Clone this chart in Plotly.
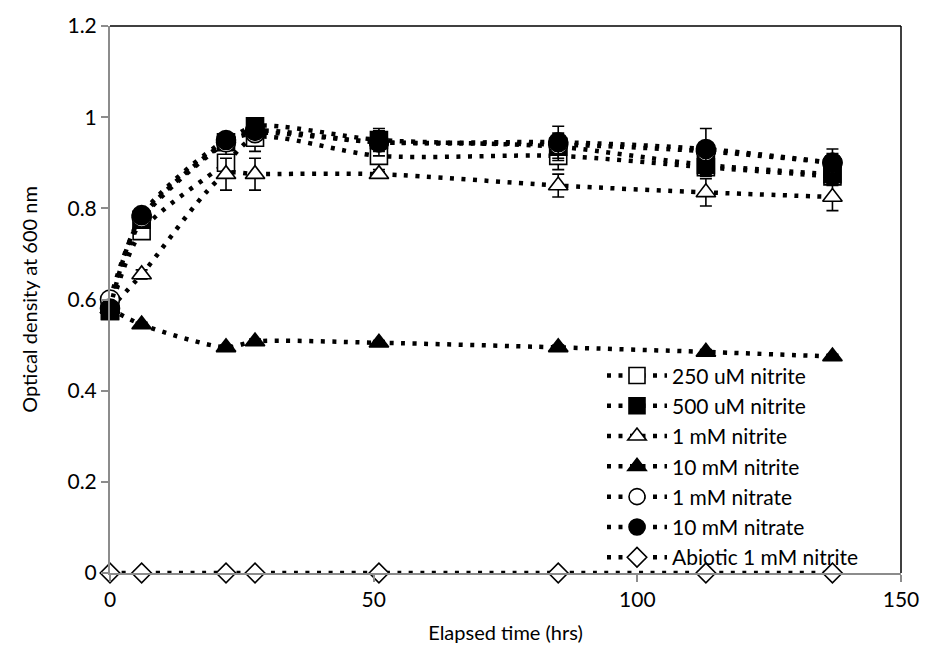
import plotly.graph_objects as go

time_hrs = [0, 6, 22, 27.5, 51, 85, 113, 137]

series_names = ["250 uM nitrite", "500 uM nitrite", "1 mM nitrite", "10 mM nitrite",
                "1 mM nitrate", "10 mM nitrate", "Abiotic 1 mM nitrite"]

nitrite_250uM = [0.575, 0.75, 0.90, 0.955, 0.915, 0.915, 0.89, 0.87]
nitrite_500uM = [0.575, 0.775, 0.945, 0.98, 0.95, 0.935, 0.895, 0.875]
nitrite_1mM = [0.58, 0.655, 0.875, 0.875, 0.875, 0.85, 0.835, 0.825]
nitrite_10mM = [0.58, 0.545, 0.495, 0.508, 0.505, 0.495, 0.485, 0.475]
nitrate_1mM = [0.60, 0.78, 0.945, 0.965, 0.945, 0.94, 0.925, 0.90]
nitrate_10mM = [0.58, 0.785, 0.95, 0.97, 0.945, 0.945, 0.93, 0.90]
abiotic_1mM = [0, 0, 0, 0, 0, 0, 0, 0]

err_250uM = [0.005, 0.01, 0.03, 0.03, 0.03, 0.03, 0.02, 0.02]
err_500uM = [0.005, 0.01, 0.01, 0.015, 0.02, 0.03, 0.02, 0.02]
err_1mM_nitrite = [0.005, 0.01, 0.035, 0.035, 0.005, 0.025, 0.03, 0.03]
err_10mM_nitrite = [0.005, 0.005, 0.005, 0.005, 0.005, 0.005, 0.005, 0.005]
err_1mM_nitrate = [0.005, 0.01, 0.01, 0.01, 0.02, 0.02, 0.02, 0.02]
err_10mM_nitrate = [0.005, 0.01, 0.01, 0.01, 0.03, 0.035, 0.045, 0.03]
err_abiotic = [0, 0, 0, 0, 0, 0, 0, 0]

values = [nitrite_250uM, nitrite_500uM, nitrite_1mM, nitrite_10mM,
          nitrate_1mM, nitrate_10mM, abiotic_1mM]
errors = [err_250uM, err_500uM, err_1mM_nitrite, err_10mM_nitrite,
          err_1mM_nitrate, err_10mM_nitrate, err_abiotic]
symbols = ["square", "square", "triangle-up", "triangle-up", "circle", "circle", "diamond"]
fills = ["white", "black", "white", "black", "white", "black", "white"]
sizes = [17, 17, 17, 17, 19, 19, 15]

fig = go.Figure()
for name, y, e, sym, fc, sz in zip(series_names, values, errors, symbols, fills, sizes):
    fig.add_trace(go.Scatter(
        x=time_hrs, y=y, name=name, mode="lines+markers",
        line=dict(color="black", width=4.5, dash="4px,7.5px", shape="spline", smoothing=0.8),
        marker=dict(symbol=sym, size=sz, color=fc, line=dict(color="black", width=1.6)),
        error_y=dict(type="data", array=e, color="black", thickness=1.6, width=6),
        cliponaxis=False,
    ))

font_family = "Lato, 'Open Sans', sans-serif"

fig.update_layout(
    width=931, height=660,
    margin=dict(l=110, r=26, t=21, b=87),
    paper_bgcolor="white", plot_bgcolor="white",
    font=dict(family=font_family, size=21, color="black"),
    showlegend=True,
    legend=dict(x=0.622, y=0.398, xanchor="left", yanchor="top",
                bgcolor="rgba(0,0,0,0)", font=dict(size=21),
                itemwidth=60, tracegroupgap=0),
    xaxis=dict(range=[0, 150], tickvals=[0, 50, 100, 150], showgrid=False, zeroline=False,
               showline=True, linecolor="#8c8c8c", linewidth=2,
               ticks="outside", ticklen=7, tickcolor="#8c8c8c", tickwidth=2,
               title=dict(text="Elapsed time (hrs)", font=dict(size=20), standoff=16)),
    yaxis=dict(range=[0, 1.2], dtick=0.2, showgrid=False, zeroline=False,
               showline=True, linecolor="#8c8c8c", linewidth=2,
               ticks="outside", ticklen=7, tickcolor="#8c8c8c", tickwidth=2,
               title=dict(text="Optical density at 600 nm", font=dict(size=20), standoff=24)),
    shapes=[
        dict(type="line", xref="paper", yref="paper", x0=0, x1=1, y0=1, y1=1,
             line=dict(color="black", width=1.5), layer="below"),
        dict(type="line", xref="paper", yref="paper", x0=1, x1=1, y0=0, y1=1,
             line=dict(color="black", width=1.5), layer="below"),
    ],
)

fig.write_html("out.html")
